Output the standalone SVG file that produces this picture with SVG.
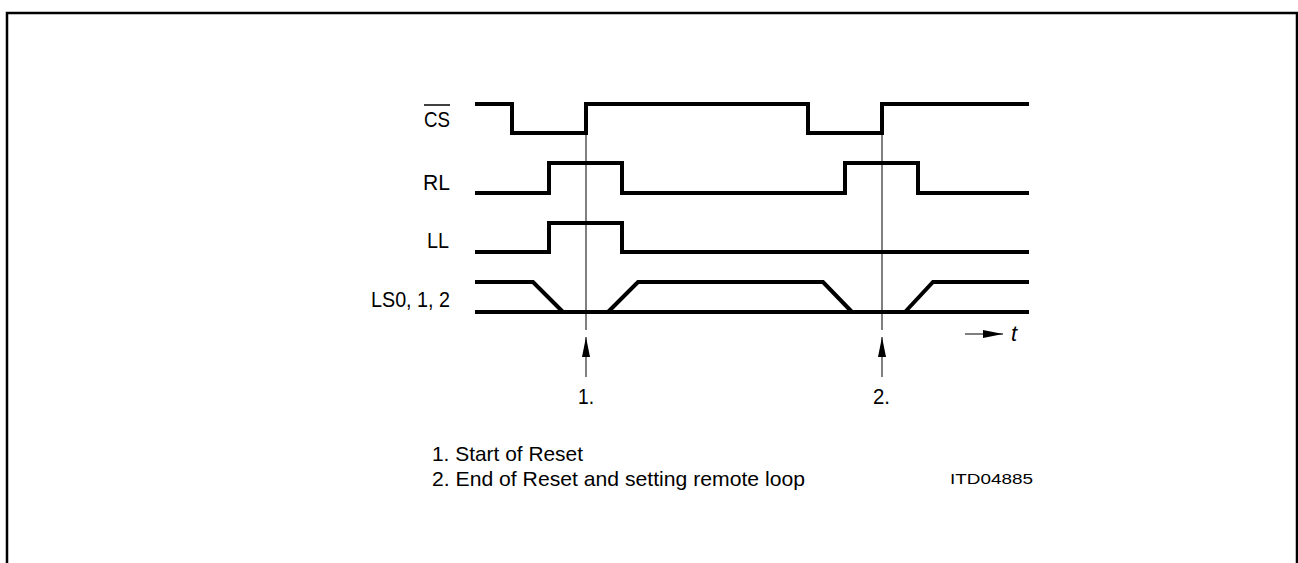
<svg xmlns="http://www.w3.org/2000/svg" width="1298" height="563" viewBox="0 0 1298 563">
<style>
.sig{fill:none;stroke:#000;stroke-width:4;stroke-linejoin:miter;stroke-linecap:butt}
.thin{fill:none;stroke:#000;stroke-width:1}
.lbl{font-family:"Liberation Sans",Arial,sans-serif;font-size:22px;fill:#000}
.note{font-family:"Liberation Sans",Arial,sans-serif;font-size:21px;fill:#000}
.small{font-family:"Liberation Sans",Arial,sans-serif;font-size:15px;fill:#000}
</style>
<defs>
<marker id="ah" viewBox="0 0 20 8" refX="20" refY="4" markerWidth="20" markerHeight="8" markerUnits="userSpaceOnUse" orient="auto">
<path d="M0,0 L20,4 L0,8 Z" fill="#000"/>
</marker>
</defs>
<g id="frame">
<path d="M7,563 V13 H1297 V563" fill="none" stroke="#000" stroke-width="2.5"/>
</g>
<g id="signals">
<g id="cs"><path class="sig" d="M475,104 H512 V133 H586 V104 H808 V133 H882 V104 H1029"/>
<text class="lbl" x="424" y="127" textLength="26" lengthAdjust="spacingAndGlyphs">CS</text>
<line x1="424" y1="105" x2="450" y2="105" stroke="#000" stroke-width="1.5"/></g>
<g id="rl"><path class="sig" d="M475,193 H549 V163 H622 V193 H845 V163 H918 V193 H1029"/>
<text class="lbl" x="423" y="190" textLength="27" lengthAdjust="spacingAndGlyphs">RL</text></g>
<g id="ll"><path class="sig" d="M475,252 H549 V223 H622 V252 H1029"/>
<text class="lbl" x="427" y="248" textLength="22" lengthAdjust="spacingAndGlyphs">LL</text></g>
<g id="ls"><path class="sig" d="M475,282 H533 L563,312 M475,312 H1029 M608,312 L638,282 H823 L852,312 M905,312 L933,282 H1029"/>
<text class="lbl" x="371" y="307" textLength="79" lengthAdjust="spacingAndGlyphs">LS0, 1, 2</text></g>
</g>
<g id="connectors">
<line class="thin" x1="586" y1="133" x2="586" y2="330"/>
<line class="thin" x1="882" y1="133" x2="882" y2="330"/>
<line class="thin" x1="586" y1="377" x2="586" y2="337" marker-end="url(#ah)"/>
<line class="thin" x1="882" y1="377" x2="882" y2="337" marker-end="url(#ah)"/>
<line class="thin" x1="965" y1="334" x2="1003" y2="334" marker-end="url(#ah)"/>
</g>
<g id="labels">
<text class="lbl" x="1011" y="341" font-style="italic">t</text>
<text class="lbl" x="578" y="404" textLength="16" lengthAdjust="spacingAndGlyphs">1.</text>
<text class="lbl" x="873" y="404" textLength="17" lengthAdjust="spacingAndGlyphs">2.</text>
<text class="note" x="432" y="461" textLength="151" lengthAdjust="spacingAndGlyphs">1. Start of Reset</text>
<text class="note" x="432" y="486" textLength="373" lengthAdjust="spacingAndGlyphs">2. End of Reset and setting remote loop</text>
<text class="small" x="950" y="484" textLength="83" lengthAdjust="spacingAndGlyphs">ITD04885</text>
</g>
</svg>
